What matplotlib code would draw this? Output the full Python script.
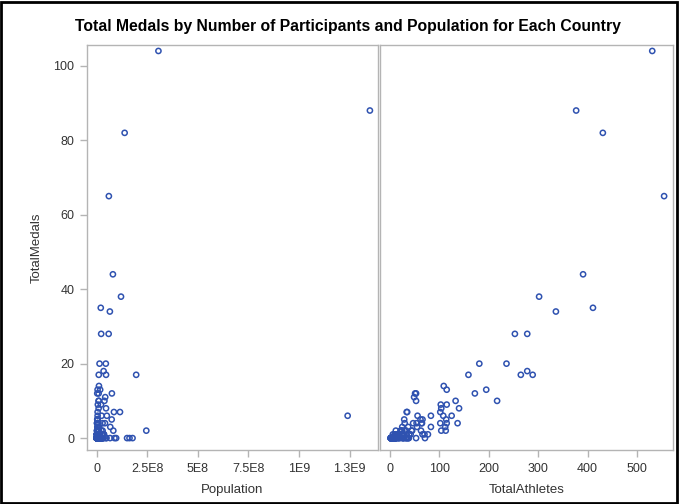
import matplotlib
matplotlib.use("Agg")
import matplotlib.pyplot as plt
from matplotlib.patches import Rectangle

# medal-winning countries: population, athletes, total medals
pop_med = [3.05e8, 1.35e9, 1.38e8, 6.0e7, 8.0e7, 1.2e8, 2.0e7, 6.5e7, 2.2e7, 5.9e7,
           1.4e7, 4.5e7, 3.4e7, 1.0e7, 4.6e7, 1.95e8, 1.1e7, 1.7e7, 4.4e6, 7.5e7,
           2.7e6, 9.5e6, 4.2e7, 1.05e7, 3.8e7, 9.2e6, 2.1e7, 5.6e6, 9.5e6, 4.6e7,
           8.5e7, 4.5e6, 1.15e8, 2.4e7, 5.0e7, 4.4e6, 1.24e9, 7.4e7, 3.0e6, 4.6e6,
           2.8e6, 2.0e6, 7.9e6, 4.1e7, 5.0e6, 2.9e7, 7.2e6, 5.4e6, 1.3e6, 1.1e7,
           1.1e7, 3.0e6, 5.4e6, 6.7e7, 1.0e7, 8.2e7, 2.45e8, 7.3e6, 1.3e6, 3.7e6,
           2.3e7, 2.9e7, 1.1e7, 3.6e6, 5.2e6, 1.9e6, 2.0e6, 2.9e7, 3.5e7, 1.1e5,
           3.6e7, 3.5e5, 1.06e7, 2.0e6, 1.1e6, 1.5e7, 1.5e6, 6.2e5, 1.3e6, 7.1e6,
           2.8e7, 2.8e6, 3.2e7, 7.0e6, 3.0e7]
ath_med = [531, 377, 431, 555, 391, 302, 411, 336, 253, 278,
           181, 236, 278, 159, 289, 265, 109, 115, 195, 53,
           51, 172, 49, 133, 217, 53, 103, 115, 140, 104,
           34, 35, 102, 56, 125, 108, 83, 114, 62, 66,
           29, 65, 102, 137, 64, 54, 115, 47, 30, 83,
           112, 25, 55, 37, 30, 113, 22, 63, 33, 25,
           44, 30, 104, 22, 23, 12, 45, 70, 15, 10,
           39, 25, 77, 10, 13, 19, 26, 34, 12, 42,
           19, 11, 66, 16, 6]
medals = [104, 88, 82, 65, 44, 38, 35, 34, 28, 28,
          20, 20, 18, 17, 17, 17, 14, 13, 13, 12,
          12, 12, 11, 10, 10, 10, 9, 9, 8, 8,
          7, 7, 7, 6, 6, 6, 6, 5, 5, 5,
          5, 4, 4, 4, 4, 4, 4, 4, 4, 3,
          3, 3, 3, 3, 2, 2, 2, 2, 2, 2,
          2, 2, 2, 2, 2, 2, 2, 1, 1, 1,
          1, 1, 1, 1, 1, 1, 1, 1, 1, 1,
          1, 1, 1, 1, 1]

# countries without a medal: population, athletes
pop_zero = [1.62e8, 1.77e8, 1.50e8, 9.6e7, 8.8e7, 6.6e7, 4.8e7, 4.6e7, 3.4e7, 3.0e7,
            3.0e7, 3.2e7, 2.5e7, 2.4e7, 2.4e7, 2.1e7, 2.1e7, 2.0e7, 2.0e7, 2.1e7,
            2.0e7, 1.7e7, 1.6e7, 1.5e7, 1.6e7, 1.7e7, 1.5e7, 1.3e7, 1.3e7, 1.3e7,
            1.5e7, 1.2e7, 1.1e7, 1.1e7, 9.1e6, 1.0e7, 1.0e7, 9.6e6, 8.6e6, 8.4e6,
            7.8e6, 6.6e6, 6.5e6, 7.8e6, 6.2e6, 6.4e6, 6.3e6, 6.2e6, 6.0e6, 5.9e6,
            5.6e6, 5.1e6, 3.4e6, 4.3e6, 4.7e6, 4.5e6, 4.1e6, 3.6e6, 2.8e6, 3.2e6,
            3.8e6, 4.1e6, 3.5e6, 2.1e6, 2.3e6, 2.2e6, 1.8e6, 1.6e6, 3.2e5, 5.2e5,
            4.2e5, 1.3e6, 1.2e6, 8.7e5, 7.4e5, 7.5e5, 9.0e5, 7.2e5, 1.2e6, 7.6e5,
            5.3e5, 5.0e5, 5.5e5, 3.3e5, 4.1e5, 3.2e5, 2.5e5, 2.7e5, 1.9e5, 1.8e5,
            1.7e5, 1.0e5, 1.0e5, 1.0e5, 8.7e4, 9.0e4, 7.8e4, 7.1e4, 5.5e4, 5.3e4,
            1.0e5, 5.6e4, 6.5e4, 3.6e4, 3.5e4, 3.2e4, 2.1e4, 2.0e4, 1.0e4, 1.0e4,
            2.8e4, 1.1e5, 5.5e4, 1.6e5, 4.0e6, 8.3e6, 7.0e6, 6.1e6]
ath_zero = [53, 21, 5, 11, 18, 4, 6, 7, 4, 16,
            5, 8, 9, 6, 4, 7, 10, 33, 11, 10,
            32, 5, 6, 5, 6, 35, 36, 7, 38, 7,
            6, 3, 5, 7, 5, 5, 5, 2, 6, 71,
            38, 8, 3, 26, 10, 5, 9, 6, 2, 6,
            14, 10, 29, 10, 11, 6, 7, 5, 4, 11,
            6, 2, 2, 10, 9, 4, 3, 4, 27, 10,
            5, 12, 3, 6, 2, 3, 5, 2, 2, 6,
            5, 3, 4, 4, 3, 3, 5, 18, 8, 4,
            2, 3, 5, 7, 10, 5, 6, 2, 5, 7,
            4, 5, 8, 3, 6, 4, 5, 2, 2, 2,
            3, 8, 5, 7, 5, 26, 8, 12]

population = pop_med + pop_zero
athletes = ath_med + ath_zero
total_medals = medals + [0] * len(pop_zero)

pop_ticks = [0, 2.5e8, 5e8, 7.5e8, 1e9, 1.25e9]
pop_labels = ["0", "2.5E8", "5E8", "7.5E8", "1E9", "1.3E9"]
ath_ticks = [0, 100, 200, 300, 400, 500]
medal_ticks = [0, 20, 40, 60, 80, 100]

plt.rcParams["font.family"] = ["Liberation Sans", "DejaVu Sans"]

MARK = "#2f52b0"
FRAME = "#b4b4b4"
TEXT = "#333333"

fig = plt.figure(figsize=(6.79, 5.04), dpi=100)
ax1 = fig.add_axes([87 / 679, 1 - 450 / 504, 291 / 679, 405 / 504])
ax2 = fig.add_axes([380 / 679, 1 - 450 / 504, 293 / 679, 405 / 504])

for ax, xs in ((ax1, population), (ax2, athletes)):
    ax.scatter(xs, total_medals, s=14, facecolors="none", edgecolors=MARK,
               linewidths=1.1, zorder=3)
    ax.set_ylim(-3.2, 105.6)
    ax.set_yticks(medal_ticks)
    for sp in ax.spines.values():
        sp.set_color(FRAME)
        sp.set_linewidth(1)
    ax.tick_params(axis="both", colors=FRAME, labelcolor=TEXT, labelsize=9,
                   length=5, width=1, direction="out", pad=4)

ax1.set_xlim(-4.8e7, 1.39e9)
ax1.set_xticks(pop_ticks)
ax1.set_xticklabels(pop_labels)
ax1.set_xlabel("Population", fontsize=9.5, color=TEXT, labelpad=7)
ax1.set_ylabel("TotalMedals", fontsize=9.5, color=TEXT, labelpad=8)

ax2.set_xlim(-20, 573)
ax2.set_xticks(ath_ticks)
ax2.set_xlabel("TotalAthletes", fontsize=9.5, color=TEXT, labelpad=7)
ax2.tick_params(axis="y", left=False, labelleft=False)

fig.text(0.513, 1 - 27 / 504, "Total Medals by Number of Participants and Population for Each Country",
         ha="center", va="center", fontsize=11.3, fontweight="bold", color="black")

fig.patches.append(Rectangle((0.001, 0.002), 0.996, 0.995, transform=fig.transFigure,
                             fill=False, edgecolor="black", linewidth=2))

fig.savefig("out.png", dpi=100)
